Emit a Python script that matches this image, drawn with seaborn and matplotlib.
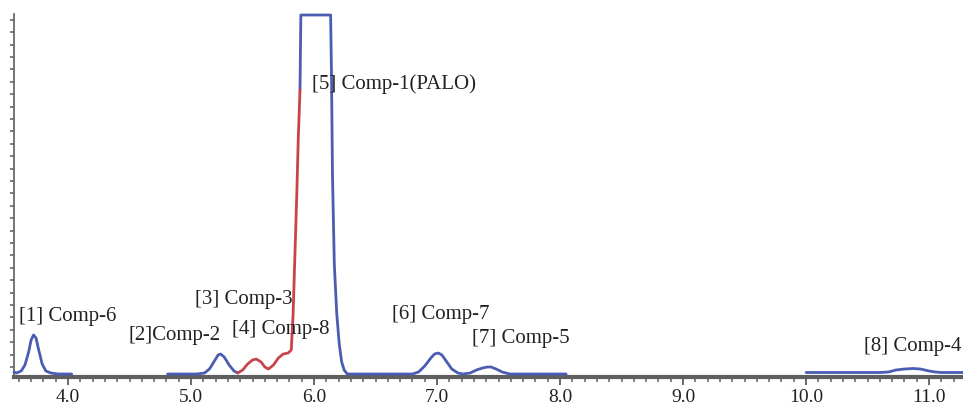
import numpy as np
import pandas as pd
import seaborn as sns
import matplotlib.pyplot as plt
from matplotlib.ticker import MultipleLocator, FixedLocator

# retention time (min) / detector response
peak1_rt = [3.561, 3.58, 3.62, 3.65, 3.68, 3.70, 3.72, 3.74, 3.76, 3.79, 3.82, 3.86, 3.92, 4.03]
peak1_int = [2, 1, 3, 9, 22, 34, 39, 36, 25, 10, 3, 1, 0, 0]

peak2_rt = [4.81, 4.9, 5.05, 5.11, 5.15, 5.19, 5.22, 5.24, 5.27, 5.31, 5.35, 5.38]
peak2_int = [0, 0, 0, 1, 5, 13, 19, 20, 17, 9, 3, 1]

# red part: Comp-3 / Comp-8 on the front of the main peak
front_rt = [5.38, 5.42, 5.46, 5.50, 5.53, 5.57, 5.60, 5.63, 5.67, 5.71, 5.75, 5.79, 5.815,
            5.83, 5.845, 5.86, 5.872, 5.886]
front_int = [1, 4, 10, 14, 15, 12, 7, 5, 9, 16, 20, 21, 24, 60, 120, 180, 235, 284]

main_rt = [5.886, 5.893, 6.135, 6.142, 6.15, 6.165, 6.185, 6.205, 6.225, 6.245, 6.27,
           6.35, 6.6, 6.80, 6.85, 6.90, 6.95, 6.98, 7.01, 7.04, 7.08, 7.12, 7.17, 7.21,
           7.27, 7.32, 7.37, 7.41, 7.44, 7.48, 7.53, 7.59, 7.7, 7.9, 8.05]
main_int = [284, 359, 359, 300, 200, 110, 60, 30, 12, 4, 0,
            0, 0, 0, 2, 8, 16, 20, 21, 19, 12, 5, 1, 0,
            1, 4, 6, 7, 7, 5, 2, 0, 0, 0, 0]

peak8_rt = [10.0, 10.3, 10.6, 10.67, 10.73, 10.8, 10.87, 10.93, 11.0, 11.05, 11.1, 11.276]
peak8_int = [1.5, 1.5, 1.5, 2, 4, 5, 5.5, 5, 3, 2, 1.5, 1.5]

labels = ['[1] Comp-6', '[2]Comp-2', '[3] Comp-3', '[4] Comp-8',
          '[5] Comp-1(PALO)', '[6] Comp-7', '[7] Comp-5', '[8] Comp-4']
label_rt = [3.602, 4.49, 5.033, 5.333, 5.984, 6.634, 7.285, 10.47]
label_int = [53, 34, 70, 40, 285, 55, 31, 23]

xticks = [4.0, 5.0, 6.0, 7.0, 8.0, 9.0, 10.0, 11.0]

sns.set_style('white')
plt.rcParams['font.family'] = ['Liberation Serif', 'DejaVu Serif']

blue = '#4b5cb3'
red = '#c9444a'
grey = '#5e5e5e'

fig = plt.figure(figsize=(9.63, 4.08), dpi=100)
ax = fig.add_axes([14 / 963, 31 / 408, 949 / 963, 363 / 408])

segments = [(peak1_rt, peak1_int, blue), (peak2_rt, peak2_int, blue),
            (main_rt, main_int, blue), (peak8_rt, peak8_int, blue),
            (front_rt, front_int, red)]
for rt, inten, col in segments:
    d = pd.DataFrame({'rt': rt, 'int': inten})
    sns.lineplot(data=d, x='rt', y='int', color=col, linewidth=2.0, ax=ax,
                 sort=False, estimator=None, clip_on=False, zorder=3)

for txt, x, y in zip(labels, label_rt, label_int):
    ax.text(x, y, txt, fontsize=15, color='#222222', va='baseline', ha='left',
            zorder=4, clip_on=False)

ax.set_xlim(3.561, 11.276)
ax.set_ylim(-3, 360)
ax.set_xlabel('')
ax.set_ylabel('')

for s in ['top', 'right']:
    ax.spines[s].set_visible(False)
ax.spines['bottom'].set_color(grey)
ax.spines['bottom'].set_linewidth(3)
ax.spines['left'].set_color(grey)
ax.spines['left'].set_linewidth(1.2)

ax.xaxis.set_major_locator(FixedLocator(xticks))
ax.set_xticklabels([f'{t:.1f}' for t in xticks])
ax.xaxis.set_minor_locator(MultipleLocator(0.1))
ax.tick_params(axis='x', which='major', direction='out', length=6, width=1.3,
               color=grey, labelsize=14, pad=3, labelcolor='#222222', bottom=True)
ax.tick_params(axis='x', which='minor', direction='out', length=3.5, width=1.1,
               color=grey, bottom=True)

ax.yaxis.set_major_locator(FixedLocator(np.arange(7, 359, 12.4)))
ax.tick_params(axis='y', which='major', direction='out', length=3, width=1.1,
               color=grey, labelleft=False, left=True)

fig.savefig('out.png', dpi=100)
